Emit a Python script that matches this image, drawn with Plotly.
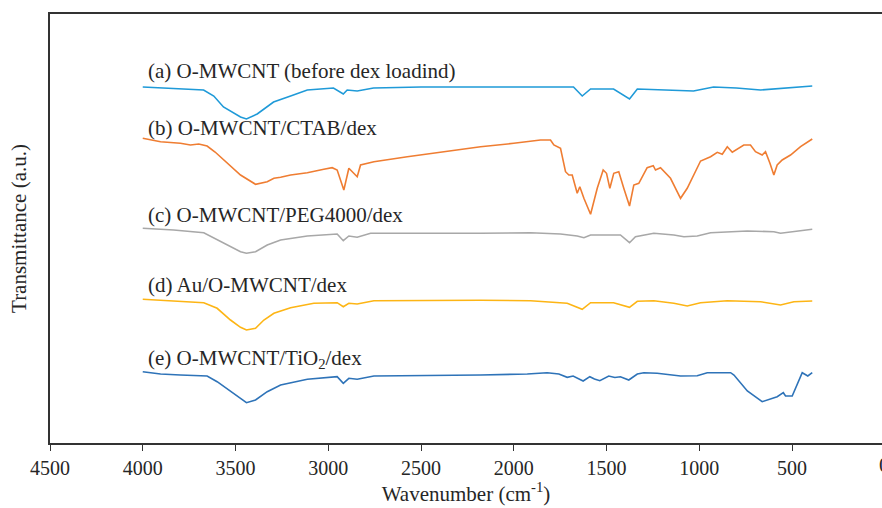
import plotly.graph_objects as go

# FTIR spectra, transmittance in arbitrary units (curves offset vertically)
wn_a = [4000, 3900, 3796, 3672, 3617, 3565, 3473, 3441, 3383, 3295, 3203, 3113,
        2972, 2919, 2898, 2844, 2756, 2500, 2179, 1900, 1678, 1631, 1586, 1462,
        1376, 1334, 1101, 1031, 923, 800, 670, 550, 391]
t_a = [356, 355, 354, 353, 347, 336, 326, 324, 329, 341, 347, 353,
       355, 349, 353, 352, 355, 356, 356, 356, 356, 347, 354, 354,
       344, 354, 353, 352, 356, 355, 353, 355, 357]

wn_b = [4000, 3904, 3797, 3743, 3698, 3653, 3610, 3563, 3473, 3392, 3329, 3293, 3257,
        3203, 3113, 3024, 2979, 2952, 2916, 2889, 2844, 2826, 2754, 2574, 2395,
        2179, 2000, 1856, 1802, 1784, 1748, 1721, 1703, 1685, 1658, 1644, 1622,
        1586, 1550, 1518, 1500, 1482, 1461, 1434, 1407, 1376, 1353, 1326, 1281,
        1248, 1236, 1209, 1155, 1101, 1065, 1029, 993, 939, 903, 876, 849,
        822, 760, 724, 697, 661, 643, 619, 598, 580, 553, 508, 454, 391]
t_b = [304.7, 301.3, 299.7, 298, 299, 297, 291, 283, 268, 258.7, 261.3, 264.7, 265.7,
       268, 270.3, 273.7, 275.3, 273, 253, 274.7, 266.3, 278, 281.3, 286.3, 290.7,
       296.3, 299.7, 303, 303, 298, 294.7, 271.3, 268, 268, 249.7, 256.3, 244.7,
       228.7, 254.7, 273, 269.7, 254.7, 269.7, 271.3, 254.7, 237, 258, 259.7, 275.3,
       277.3, 273, 275.3, 264.7, 244.7, 254.7, 268, 282, 286.3, 290.7, 288.7, 296.3,
       290.7, 298, 298, 291.3, 288, 291.3, 279.7, 268, 278, 283, 288, 296.3, 304]

wn_c = [4000, 3833, 3671, 3563, 3473, 3441, 3392, 3329, 3257, 3113, 2952, 2919,
        2889, 2844, 2772, 2179, 1910, 1748, 1658, 1622, 1586, 1425, 1376, 1344,
        1245, 1137, 1083, 1011, 939, 741, 598, 562, 454, 391]
t_c = [214.7, 213, 210.3, 199.7, 191.3, 189.7, 191.3, 198, 203, 207, 209, 202.3,
       207, 205.7, 209.7, 209.7, 210.3, 209, 207, 205.3, 208, 208, 200.3, 206.3,
       209.7, 208, 206.3, 207, 210.3, 212, 211.3, 209.7, 212.3, 213.7]

wn_d = [4000, 3833, 3671, 3599, 3527, 3473, 3441, 3392, 3347, 3293, 3203, 3078,
        2952, 2919, 2889, 2844, 2754, 2179, 1910, 1712, 1631, 1586, 1462, 1376,
        1334, 1245, 1137, 1065, 993, 849, 670, 562, 490, 391]
t_d = [143.7, 142.3, 140.3, 134.7, 123, 115.7, 113, 114.7, 123, 129.7, 135.3, 139.7,
       140.3, 136.3, 139.7, 139, 142.3, 142.7, 142.3, 139.7, 133.7, 140.3, 140.3, 135.7,
       141.7, 142.3, 139.7, 137, 140.3, 142.3, 141.3, 138, 141.3, 142]

wn_e = [4000, 3904, 3797, 3653, 3599, 3527, 3473, 3441, 3392, 3329, 3257, 3113,
        2952, 2919, 2889, 2844, 2754, 2179, 1927, 1820, 1757, 1712, 1680, 1626, 1590,
        1565, 1536, 1488, 1455, 1425, 1380, 1334, 1299, 1227, 1173, 1101, 1011, 957, 831,
        813, 741, 661, 580, 547, 535, 499, 445, 415, 391]
t_e = [71.3, 69, 68, 67, 61.3, 51.3, 44.7, 40.3, 43, 51.3, 58, 63.7,
       66.3, 59.7, 64.7, 63.7, 67, 68, 69, 70.3, 69, 65.7, 67, 62, 66.3,
       64, 62.3, 67, 65.5, 66.3, 63, 69, 70.3, 69.7, 68.7, 67, 67.3, 70.3, 70.3,
       68, 52, 41.3, 46.3, 50.3, 47, 47, 70.3, 67, 70.3]

labels = ["(a) O-MWCNT (before dex loadind)", "(b) O-MWCNT/CTAB/dex",
          "(c) O-MWCNT/PEG4000/dex", "(d) Au/O-MWCNT/dex",
          "(e) O-MWCNT/TiO<sub>2</sub>/dex"]
label_y = [372.5, 315, 228, 158, 84]
colors = ["#1f9ad8", "#ef7d32", "#a8a8a8", "#fdb515", "#2e73b8"]

x_ticks = [4500, 4000, 3500, 3000, 2500, 2000, 1500, 1000, 500]

FONT = "Liberation Serif"
FSIZE = 21

fig = go.Figure()
for wn, t, col in zip([wn_a, wn_b, wn_c, wn_d, wn_e], [t_a, t_b, t_c, t_d, t_e], colors):
    fig.add_trace(go.Scatter(x=wn, y=t, mode="lines",
                             line=dict(color=col, width=1.6), showlegend=False,
                             hoverinfo="skip"))

for txt, ly in zip(labels, label_y):
    fig.add_annotation(x=3985, y=ly, xref="x", yref="y", text=txt,
                       showarrow=False, xanchor="left", yanchor="middle",
                       font=dict(family=FONT, size=FSIZE, color="#262626"))

# last tick of the axis, mostly beyond the right edge of the page
fig.add_annotation(x=1.0027, y=0, xref="paper", yref="paper", text="0",
                   showarrow=False, xanchor="center", yanchor="top", yshift=-8,
                   font=dict(family=FONT, size=FSIZE, color="#262626"))

fig.update_layout(
    width=882, height=508,
    margin=dict(l=50, r=0, t=14, b=65),
    paper_bgcolor="white", plot_bgcolor="white",
    font=dict(family=FONT, size=FSIZE, color="#262626"),
    xaxis=dict(range=[4500, 15], tickvals=x_ticks, ticks="outside", ticklen=6,
               tickwidth=1.2, tickcolor="#333333", showline=True, linewidth=2,
               linecolor="#333333", mirror=True, showgrid=False, zeroline=False,
               title=dict(text="Wavenumber (cm<sup>-1</sup>)", standoff=6,
                          font=dict(family=FONT, size=FSIZE)),
               tickfont=dict(family=FONT, size=FSIZE - 1)),
    yaxis=dict(range=[0, 429], showticklabels=False, ticks="", showline=True,
               linewidth=2, linecolor="#333333", mirror=False, showgrid=False,
               zeroline=False,
               title=dict(text="Transmittance (a.u.)", standoff=16,
                          font=dict(family=FONT, size=FSIZE))),
)

fig.write_html("out.html")
